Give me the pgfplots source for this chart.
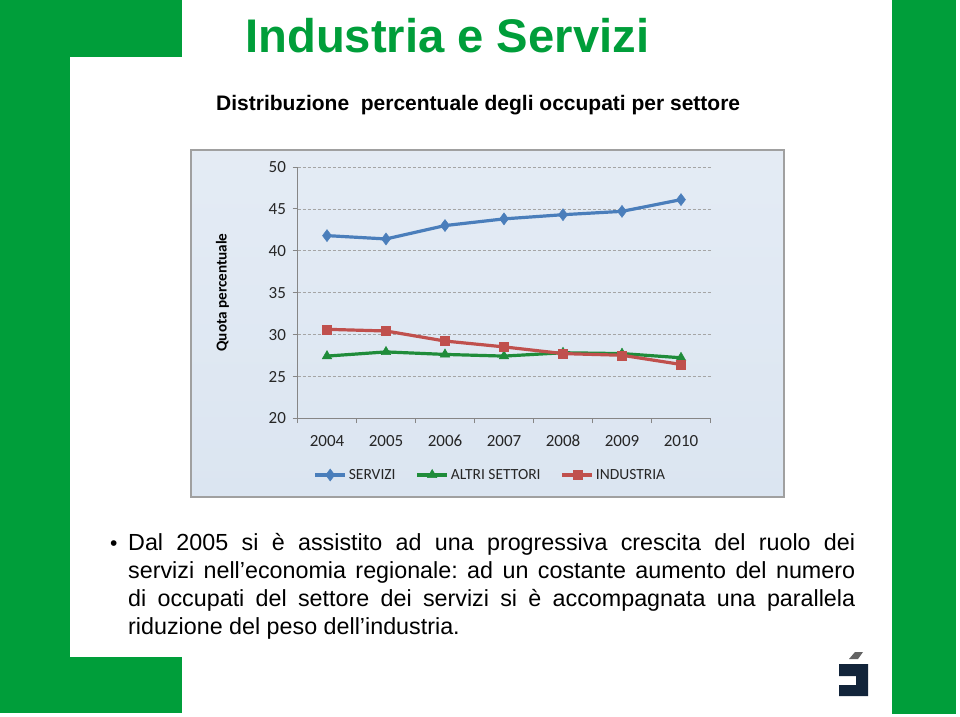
\documentclass[border=0pt]{standalone}
\usepackage{pgfplots}
\pgfplotsset{compat=1.18}
\usepackage{fontspec}
\setmainfont{Liberation Sans}
\newfontfamily\carlito{Carlito}
\frenchspacing

\definecolor{slidegreen}{RGB}{0,158,58}
\definecolor{servizi}{RGB}{74,126,187}
\definecolor{altri}{RGB}{31,140,58}
\definecolor{industria}{RGB}{192,80,77}
\definecolor{axisgrey}{RGB}{134,134,134}
\definecolor{gridgrey}{RGB}{165,165,165}
\definecolor{boxbg}{RGB}{219,229,241}
\definecolor{boxline}{RGB}{160,160,160}
\definecolor{logonavy}{RGB}{18,36,58}
\definecolor{logogrey}{RGB}{100,100,100}

\begin{document}
\begin{tikzpicture}
% slide background and green frame pieces
\fill[white] (0pt,0pt) rectangle (960pt,-716pt);
\fill[slidegreen] (0pt,0pt) rectangle (182pt,-57pt);
\fill[slidegreen] (0pt,0pt) rectangle (70pt,-713pt);
\fill[slidegreen] (0pt,-657pt) rectangle (182pt,-713pt);
\fill[slidegreen] (892pt,0pt) rectangle (956pt,-714pt);

% titles
\node[anchor=base west, inner sep=0, text=slidegreen]
  at (245pt,-52pt) {\fontsize{47.2}{52}\selectfont\bfseries Industria e Servizi};
\node[anchor=base west, inner sep=0]
  at (216pt,-110pt) {\fontsize{21}{24}\selectfont\bfseries Distribuzione\ \ percentuale degli occupati per settore};

% chart box
\filldraw[draw=boxline, line width=1.5pt, top color=boxbg!75!white, bottom color=boxbg]
  (191pt,-150pt) rectangle (784pt,-497pt);

\begin{axis}[
  at={(297.5pt,-167pt)}, anchor=north west,
  scale only axis, width=413pt, height=251pt,
  xmin=-0.5, xmax=6.5, ymin=20, ymax=50,
  axis x line=bottom, axis y line=left,
  axis line style={-, draw=axisgrey, line width=0.8pt},
  tick align=outside, major tick length=5pt,
  tick style={axisgrey, line width=0.8pt},
  xtick={-0.5,0.5,...,6.5}, xticklabels={},
  extra x ticks={0,1,2,3,4,5,6},
  extra x tick labels={2004,2005,2006,2007,2008,2009,2010},
  extra x tick style={major tick length=0pt},
  ytick={20,25,...,50},
  ymajorgrids, major grid style={gridgrey, line width=0.6pt, dash pattern=on 3pt off 2pt},
  /pgf/number format/assume math mode=true,
  typeset ticklabels with strut,
  ticklabel style={font=\carlito\fontsize{17}{17}\selectfont, text=black!85},
  yticklabel style={xshift=-3pt, yshift=-2.5pt},
  xticklabel style={yshift=-13pt},
  ylabel={\carlito\bfseries\fontsize{15.2}{15}\selectfont Quota percentuale},
  every axis y label/.style={at={(axis description cs:0,0.5)}, xshift=-75pt, rotate=90, anchor=center},
  legend style={at={(0.467,-0.227)}, anchor=center, draw=none, fill=none,
    font=\carlito\fontsize{15.5}{15.5}\selectfont, text=black!85,
    /tikz/every even column/.append style={column sep=18pt}},
  legend columns=3,
  legend image code/.code={\draw[mark repeat=2, mark phase=2, #1] plot coordinates {(0pt,0pt) (15pt,0pt) (30pt,0pt)};},
  every axis plot/.append style={line width=3.2pt},
]
\addplot[servizi, mark=diamond*, mark size=6pt, mark options={line width=0.5pt}] coordinates {
  (0,41.8) (1,41.4) (2,43.0) (3,43.8) (4,44.3) (5,44.7) (6,46.1)
};
\addlegendentry{SERVIZI}
\addplot[altri, mark=triangle*, mark size=5.5pt, mark options={line width=0.5pt}] coordinates {
  (0,27.4) (1,27.9) (2,27.6) (3,27.4) (4,27.8) (5,27.7) (6,27.2)
};
\addlegendentry{ALTRI SETTORI}
\addplot[industria, mark=square*, mark size=4.5pt, mark options={line width=0.5pt}] coordinates {
  (0,30.6) (1,30.4) (2,29.2) (3,28.5) (4,27.7) (5,27.5) (6,26.4)
};
\addlegendentry{INDUSTRIA}
\end{axis}

% bullet text
\node[anchor=base west, inner sep=0] at (110pt,-550pt) {\fontsize{21}{28.3}\selectfont •};
\node[anchor=base west, inner sep=0] at (128pt,-550pt) {\parbox[t]{727pt}{\fontsize{23.3}{28.3}\selectfont\parindent=0pt
Dal 2005 si è assistito ad una progressiva crescita del ruolo dei\linebreak
servizi nell’economia regionale: ad un costante aumento del numero\linebreak
di occupati del settore dei servizi si è accompagnata una parallela\linebreak
riduzione del peso dell’industria.}};

% logo
\fill[logonavy] (839pt,-664pt) -- (868pt,-664pt) -- (868pt,-696pt) -- (839pt,-696pt)
  -- (839pt,-685pt) -- (856pt,-685pt) -- (856pt,-676pt) -- (839pt,-676pt) -- cycle;
\fill[logogrey] (849pt,-659pt) -- (855pt,-652pt) -- (863pt,-652pt) -- (858pt,-659pt) -- cycle;
\end{tikzpicture}
\end{document}
